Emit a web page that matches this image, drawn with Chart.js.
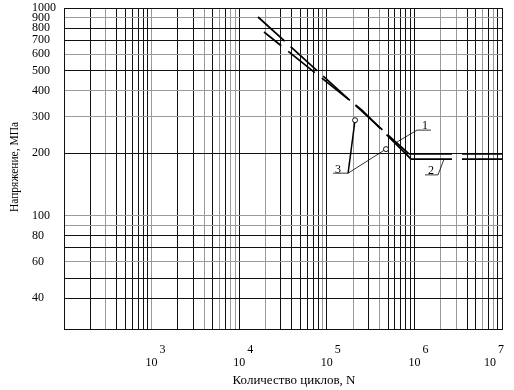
<!DOCTYPE html>
<html>
<head>
<meta charset="utf-8">
<script src="https://cdn.jsdelivr.net/npm/chart.js@4.4.1/dist/chart.umd.min.js"></script>
<style>
  html, body { margin: 0; padding: 0; background: #fff; }
  #wrap { width: 514px; height: 390px; }
</style>
</head>
<body>
<div id="wrap"><canvas id="c"></canvas></div>
<script>
// fatigue curves: number of cycles N vs stress, MPa
var curve1N = [16400, 867000, 10000000];
var curve1S = [905, 198, 198];
var curve2N = [19200, 252000, 914000, 10000000];
var curve2S = [766, 322, 187, 187];

// test points marked "3"
var pointsN = [210000, 474000];
var pointsS = [288, 209];

// axes
var xDecades = [100, 1000, 10000, 100000, 1000000];
var xMultipliers = [1, 2, 3, 4, 5, 6, 7, 8, 9];
var xTickExponents = [3, 4, 5, 6, 7];
var yGrid = [40, 50, 60, 70, 80, 90, 100, 200, 300, 400, 500, 600, 700, 800, 900, 1000];
var yTickLabels = [40, 60, 80, 100, 200, 300, 400, 500, 600, 700, 800, 900, 1000];

var xGrey = [300, 1000, 4000, 6000, 8000, 9000, 20000, 90000, 200000, 400000, 2000000, 3000000, 6000000, 8000000];
var yGrey = [900, 600, 400, 300, 100, 90, 60];

var xGrid = [];
xDecades.forEach(function (d) {
  xMultipliers.forEach(function (m) { xGrid.push(d * m); });
});
xGrid.push(10000000);

function toPoints(xs, ys) {
  return xs.map(function (v, i) { return { x: v, y: ys[i] }; });
}

var SERIF = '"Liberation Serif", "Times New Roman", serif';

var annotate = {
  id: 'annotate',
  afterDraw: function (chart) {
    var ctx = chart.ctx, x = chart.scales.x, y = chart.scales.y;
    var px = function (v) { return x.getPixelForValue(v); };
    var py = function (v) { return y.getPixelForValue(v); };

    function seg(n1, s1, n2, s2, w) {
      ctx.beginPath();
      ctx.lineWidth = w;
      ctx.moveTo(px(n1), py(s1));
      ctx.lineTo(px(n2), py(s2));
      ctx.stroke();
    }

    ctx.save();
    ctx.strokeStyle = '#000';
    ctx.fillStyle = '#000';
    ctx.font = '12px ' + SERIF;
    ctx.textBaseline = 'middle';

    // y tick labels
    ctx.textAlign = 'left';
    yTickLabels.forEach(function (v) {
      ctx.fillText(String(v), 32, py(v));
    });

    // x tick labels, 10 with raised exponent
    ctx.textAlign = 'center';
    xTickExponents.forEach(function (e) {
      var gx = px(Math.pow(10, e));
      if (e === 7) gx -= 12;
      ctx.fillText('10', gx, 363);
      ctx.fillText(String(e), gx + 11, 350);
    });

    // callout 1
    seg(1070000, 258, 1545000, 258, 0.8);
    seg(1070000, 258, 633000, 226, 0.8);
    ctx.fillText('1', px(1320000), py(270));

    // callout 2
    seg(1320000, 157, 1860000, 157, 0.8);
    seg(1860000, 157, 2180000, 187, 0.8);
    ctx.fillText('2', px(1545000), py(164));

    // callout 3 with test points
    seg(118000, 160, 175000, 160, 0.8);
    seg(175000, 160, pointsN[0], pointsS[0], 1.5);
    seg(175000, 160, pointsN[1], pointsS[1], 0.8);
    ctx.fillText('3', px(134000), py(166));

    // axis titles
    ctx.font = '13px ' + SERIF;
    ctx.fillText('Количество циклов, N', 294, 381);
    ctx.save();
    ctx.translate(15, 167);
    ctx.rotate(-Math.PI / 2);
    ctx.font = '11.5px ' + SERIF;
    ctx.fillText('Напряжение, МПа', 0, 0);
    ctx.restore();

    pointsN.forEach(function (n, i) {
      ctx.beginPath();
      ctx.lineWidth = 0.9;
      ctx.fillStyle = '#fff';
      ctx.arc(px(n), py(pointsS[i]), 2.5, 0, Math.PI * 2);
      ctx.fill();
      ctx.stroke();
    });
    ctx.restore();
  }
};

new Chart(document.getElementById('c'), {
  type: 'line',
  data: {
    datasets: [
      {
        data: toPoints(curve1N, curve1S),
        borderColor: '#000',
        borderWidth: 1.7,
        pointRadius: 0,
        borderDash: [36, 8],
        segment: {
          borderDash: function (c) { return c.p0DataIndex === 1 ? [43, 10] : [36, 8]; },
          borderDashOffset: function (c) { return 0; }
        }
      },
      {
        data: toPoints(curve2N, curve2S),
        borderColor: '#000',
        borderWidth: 1.7,
        pointRadius: 0,
        borderDash: [34, 9],
        borderDashOffset: 12,
        segment: {
          borderDash: function (c) { return c.p0DataIndex === 2 ? [41, 10] : [34, 9]; },
          borderDashOffset: function (c) { return c.p0DataIndex === 2 ? 0 : 12; }
        }
      }
    ]
  },
  options: {
    responsive: true,
    maintainAspectRatio: false,
    animation: false,
    layout: { padding: { left: 64, right: 12, top: 8, bottom: 61 } },
    plugins: { legend: { display: false }, tooltip: { enabled: false } },
    scales: {
      x: {
        type: 'logarithmic',
        min: 100,
        max: 10000000,
        afterBuildTicks: function (s) { s.ticks = xGrid.map(function (v) { return { value: v }; }); },
        afterFit: function (s) { s.height = 0; },
        ticks: { display: false },
        grid: {
          drawTicks: false,
          lineWidth: 1,
          color: function (c) { return xGrey.indexOf(c.tick.value) >= 0 ? '#9a9a9a' : '#111'; }
        },
        border: { color: '#111', width: 1 }
      },
      y: {
        type: 'logarithmic',
        min: 28.4,
        max: 1000,
        afterBuildTicks: function (s) { s.ticks = yGrid.map(function (v) { return { value: v }; }); },
        afterFit: function (s) { s.width = 0; },
        ticks: { display: false },
        grid: {
          drawTicks: false,
          lineWidth: 1,
          color: function (c) { return yGrey.indexOf(c.tick.value) >= 0 ? '#9a9a9a' : '#111'; }
        },
        border: { color: '#111', width: 1 }
      }
    }
  },
  plugins: [annotate]
});
</script>
</body>
</html>
